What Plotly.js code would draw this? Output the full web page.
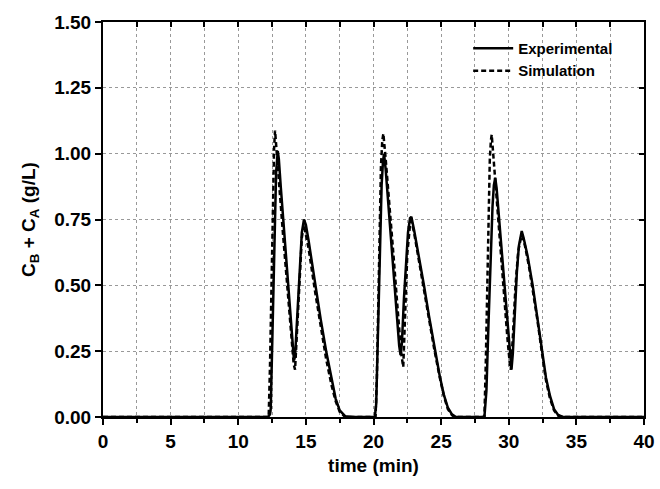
<!DOCTYPE html>
<html>
<head>
<meta charset="utf-8">
<script src="https://cdn.plot.ly/plotly-3.0.1.min.js"></script>
<style>html,body{margin:0;padding:0;background:#fff}#chart{width:660px;height:489px}</style>
</head>
<body>
<div id="chart"></div>
<script>
// Experimental (solid)
const expTime = [0, 5, 10, 12.2, 12.35, 12.4, 12.5, 12.6, 12.7, 12.8, 12.92, 13.0, 13.15, 13.35, 13.55, 13.75, 13.95, 14.05, 14.12, 14.2, 14.3, 14.5, 14.7, 14.86, 15.0, 15.2, 15.7, 16.1, 16.5, 16.9, 17.2, 17.5, 17.9, 18.5,
  20.1, 20.2, 20.3, 20.4, 20.5, 20.6, 20.7, 20.78, 20.9, 21.1, 21.3, 21.5, 21.7, 21.9, 22.0, 22.1, 22.25, 22.4, 22.55, 22.7, 22.8, 23.0, 23.2, 23.73, 24.1, 24.55, 24.9, 25.2, 25.5, 25.8, 26.1,
  28.2, 28.35, 28.5, 28.65, 28.8, 28.9, 29.0, 29.1, 29.3, 29.5, 29.7, 29.9, 30.1, 30.2, 30.3, 30.45, 30.6, 30.75, 30.9, 30.96, 31.1, 31.4, 31.77, 32.1, 32.44, 32.75, 33.05, 33.35, 33.65, 34.0, 40];
const expConc = [0, 0, 0, 0, 0.01, 0.03, 0.25, 0.5, 0.75, 0.93, 1.01, 0.98, 0.87, 0.73, 0.59, 0.455, 0.32, 0.255, 0.215, 0.23, 0.33, 0.54, 0.7, 0.75, 0.73, 0.67, 0.5, 0.37, 0.25, 0.14, 0.07, 0.025, 0.003, 0,
  0, 0.05, 0.25, 0.5, 0.72, 0.88, 0.97, 1.0, 0.94, 0.8, 0.66, 0.52, 0.39, 0.27, 0.235, 0.28, 0.45, 0.6, 0.7, 0.755, 0.76, 0.71, 0.655, 0.5, 0.385, 0.25, 0.155, 0.085, 0.035, 0.01, 0,
  0, 0.1, 0.35, 0.6, 0.8, 0.88, 0.908, 0.87, 0.74, 0.6, 0.47, 0.34, 0.22, 0.18, 0.24, 0.4, 0.55, 0.65, 0.7, 0.706, 0.68, 0.61, 0.5, 0.385, 0.25, 0.15, 0.08, 0.03, 0.008, 0, 0];

// Simulation (dashed)
const simTime = [0, 10, 12.25, 12.35, 12.45, 12.55, 12.65, 12.72, 12.8, 13.0, 13.3, 13.6, 13.9, 14.1, 14.2, 14.35, 14.5, 14.7, 14.85, 15.2, 15.7, 16.1, 16.5, 16.9, 17.2, 17.5, 17.9, 18.5,
  20.15, 20.25, 20.35, 20.45, 20.55, 20.65, 20.73, 20.9, 21.2, 21.5, 21.8, 22.05, 22.2, 22.35, 22.5, 22.7, 22.8, 23.0, 23.2, 23.7, 24.1, 24.5, 24.9, 25.2, 25.5, 25.8, 26.0,
  28.2, 28.3, 28.4, 28.5, 28.6, 28.68, 28.74, 28.85, 29.05, 29.3, 29.6, 29.9, 30.1, 30.15, 30.3, 30.5, 30.7, 30.9, 31.0, 31.2, 31.5, 31.8, 32.1, 32.45, 32.75, 33.05, 33.35, 33.65, 34.0, 40];
const simConc = [0, 0, 0, 0.2, 0.5, 0.8, 1.02, 1.088, 1.04, 0.9, 0.7, 0.5, 0.3, 0.2, 0.18, 0.32, 0.5, 0.68, 0.73, 0.64, 0.47, 0.34, 0.22, 0.12, 0.06, 0.02, 0, 0,
  0, 0.15, 0.45, 0.75, 0.95, 1.05, 1.076, 0.98, 0.8, 0.6, 0.4, 0.24, 0.19, 0.4, 0.62, 0.73, 0.745, 0.7, 0.64, 0.49, 0.375, 0.255, 0.15, 0.08, 0.03, 0.007, 0,
  0, 0.2, 0.5, 0.8, 0.98, 1.05, 1.072, 1.0, 0.86, 0.7, 0.5, 0.3, 0.19, 0.18, 0.3, 0.5, 0.63, 0.68, 0.69, 0.65, 0.57, 0.48, 0.375, 0.245, 0.14, 0.07, 0.025, 0.005, 0, 0];

const seriesNames = ["Experimental", "Simulation"];
const xTitle = "time (min)";
const yTitle = "C<sub>B</sub> + C<sub>A</sub> (g/L)";

const F = "Liberation Sans, Arial, sans-serif";

const traces = [
  {x: expTime, y: expConc, name: seriesNames[0], mode: "lines", line: {color: "#000", width: 2.5}},
  {x: simTime, y: simConc, name: seriesNames[1], mode: "lines", line: {color: "#000", width: 2.5, dash: "5px,3px"}},
  {x: [], y: [], xaxis: "x2", yaxis: "y2", showlegend: false, hoverinfo: "skip"}
];

const layout = {
  width: 660, height: 489,
  margin: {l: 103, r: 16, t: 22, b: 72},
  paper_bgcolor: "#fff", plot_bgcolor: "#fff",
  showlegend: true,
  legend: {x: 0.675, y: 0.975, xanchor: "left", yanchor: "top", bgcolor: "rgba(0,0,0,0)",
    font: {family: F, size: 15, weight: "bold", color: "#000"}, tracegroupgap: 0, itemwidth: 40},
  xaxis: {
    range: [0, 40], dtick: 5, tick0: 0,
    showline: true, linecolor: "#000", linewidth: 2, mirror: true,
    ticks: "outside", ticklen: 6, tickwidth: 2, tickcolor: "#000",
    showgrid: true, gridcolor: "#999", gridwidth: 1, griddash: "dot",
    minor: {dtick: 2.5, tick0: 0, ticks: "outside", ticklen: 4, tickwidth: 2, tickcolor: "#000", showgrid: true, gridcolor: "#999", griddash: "dot", gridwidth: 1},
    zeroline: false,
    tickfont: {family: F, size: 19, weight: "bold", color: "#000"},
    title: {text: xTitle, font: {family: F, size: 19, weight: "bold", color: "#000"}, standoff: 8}
  },
  yaxis: {
    range: [0, 1.5], dtick: 0.25, tick0: 0, tickformat: ".2f",
    showline: true, linecolor: "#000", linewidth: 2, mirror: true,
    ticks: "outside", ticklen: 6, tickwidth: 2, tickcolor: "#000",
    showgrid: true, gridcolor: "#999", gridwidth: 1, griddash: "dot",
    zeroline: false,
    tickfont: {family: F, size: 19, weight: "bold", color: "#000"},
    title: {text: yTitle, font: {family: F, size: 19, weight: "bold", color: "#000"}, standoff: 14}
  },
  xaxis2: {
    overlaying: "x", side: "top", anchor: "y2", range: [0, 40], dtick: 2.5, tick0: 0,
    ticks: "inside", ticklen: 5, tickwidth: 2, tickcolor: "#000",
    showticklabels: false, showgrid: false, zeroline: false, showline: false
  },
  yaxis2: {
    overlaying: "y", side: "right", anchor: "x2", range: [0, 1.5], dtick: 0.25, tick0: 0,
    ticks: "inside", ticklen: 5, tickwidth: 2, tickcolor: "#000",
    showticklabels: false, showgrid: false, zeroline: false, showline: false
  }
};

Plotly.newPlot("chart", traces, layout, {displayModeBar: false, staticPlot: true});
</script>
</body>
</html>
